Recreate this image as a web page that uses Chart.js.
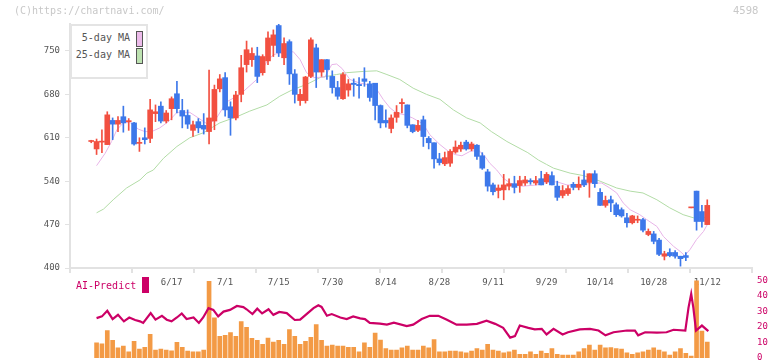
<!DOCTYPE html>
<html>
<head>
<meta charset="utf-8">
<script src="https://cdn.jsdelivr.net/npm/chart.js@4"></script>
<style>
    html, body { margin: 0; padding: 0; background: #fff; overflow: hidden; }
    #wrap { position: relative; width: 772px; height: 361px; overflow: hidden; }
    canvas { position: absolute; left: 0; }
    #main-chart { top: 0; }
    #ai-chart { top: 270px; }
    .txt { position: absolute; white-space: nowrap; font-family: "DejaVu Sans Mono", monospace; }
    #copy { left: 14px; top: 5px; font-size: 10px; color: #c8c8c8; }
    #code { left: 733px; top: 5px; font-size: 10px; color: #c8c8c8; font-family: "DejaVu Sans", sans-serif; }
    #legend { position: absolute; left: 70px; top: 24px; width: 74px; height: 51px; border: 2px solid #e4e4e4; background: #fff; }
    .lg-row { position: absolute; right: 0; height: 16px; }
    .lg-row span { position: absolute; right: 16px; top: 1px; font-size: 10px; color: #555; font-family: "DejaVu Sans Mono", monospace; white-space: nowrap; }
    .lg-row i { position: absolute; right: 3px; top: 0; width: 5px; height: 14px; border: 1px solid #555; }
    #ai-label { left: 76px; top: 280px; font-size: 10px; color: #cc0066; }
    #ai-box { position: absolute; left: 142px; top: 277px; width: 7px; height: 16px; background: #cc0066; }
</style>
</head>
<body>
<div id="wrap">
    <canvas id="main-chart" width="772" height="300"></canvas>
    <canvas id="ai-chart" width="772" height="100"></canvas>
    <div id="copy" class="txt">(C)https://chartnavi.com/</div>
    <div id="code" class="txt">4598</div>
    <div id="legend">
        <div class="lg-row" style="top:5px;width:74px"><span>5-day MA</span><i style="background:#ecbbea"></i></div>
        <div class="lg-row" style="top:22px;width:74px"><span>25-day MA</span><i style="background:#bde2b1"></i></div>
    </div>
    <div id="ai-label" class="txt">AI-Predict</div>
    <div id="ai-box"></div>
</div>
<script>
// --- DATA (one entry per trading day, index 0..115) ---
const opens = [
    604, 592, 603, 599, 638, 632, 644, 636, 634, 601,
    610, 609, 649, 661, 637, 657, 681, 654, 646, 622,
    636, 630, 620, 637, 689, 707, 660, 642, 680, 728,
    736, 742, 715, 734, 759, 791, 739, 765, 713, 670,
    670, 709, 755, 716, 736, 709, 691, 673, 687, 698,
    696, 705, 697, 698, 662, 638, 625, 643, 665, 663,
    631, 622, 639, 609, 602, 576, 568, 569, 587, 592,
    603, 592, 598, 581, 555, 534, 525, 526, 532, 536,
    533, 537, 541, 537, 544, 539, 549, 532, 517, 520,
    535, 530, 542, 538, 552, 522, 501, 510, 502, 494,
    481, 473, 477, 478, 454, 455, 445, 419, 425, 425,
    419, 420, 497, 524, 491, 470
];
const highs = [
    606, 608, 623, 652, 642, 644, 661, 641, 635, 610,
    626, 672, 663, 668, 654, 676, 701, 672, 655, 637,
    641, 649, 719, 695, 712, 715, 668, 685, 743, 766,
    755, 756, 744, 781, 784, 794, 771, 768, 720, 688,
    709, 771, 761, 736, 736, 718, 701, 715, 704, 705,
    707, 723, 701, 698, 663, 655, 647, 662, 673, 663,
    631, 638, 645, 612, 602, 585, 587, 591, 605, 603,
    606, 603, 599, 586, 559, 537, 534, 551, 544, 548,
    548, 548, 544, 548, 556, 554, 555, 540, 533, 533,
    538, 547, 557, 552, 557, 528, 516, 516, 505, 497,
    488, 485, 484, 480, 463, 459, 448, 427, 431, 428,
    419, 425, 497, 524, 501, 510
];
const lows = [
    602, 583, 586, 599, 607, 620, 619, 622, 598, 588,
    600, 602, 636, 634, 634, 639, 650, 626, 625, 612,
    618, 616, 600, 623, 684, 645, 614, 639, 668, 716,
    725, 699, 711, 728, 741, 741, 728, 696, 666, 662,
    666, 707, 691, 709, 704, 682, 672, 672, 677, 677,
    674, 693, 669, 639, 626, 627, 618, 635, 650, 626,
    618, 620, 596, 592, 561, 566, 565, 564, 585, 588,
    590, 589, 575, 559, 524, 518, 513, 510, 526, 521,
    522, 533, 535, 534, 534, 536, 534, 509, 513, 517,
    526, 526, 531, 514, 530, 501, 498, 491, 483, 482,
    466, 471, 473, 458, 452, 439, 420, 413, 418, 416,
    403, 412, 497, 461, 466, 470
];
const closes = [
    604, 604, 604, 647, 632, 638, 634, 637, 600, 602,
    607, 655, 652, 637, 650, 673, 657, 645, 632, 631,
    626, 624, 642, 688, 705, 655, 642, 679, 723, 752,
    746, 709, 741, 771, 776, 747, 762, 713, 680, 680,
    708, 768, 716, 736, 720, 691, 677, 712, 697, 696,
    694, 701, 675, 662, 634, 634, 642, 651, 667, 630,
    620, 630, 612, 602, 576, 570, 578, 588, 595, 598,
    592, 600, 580, 561, 532, 523, 529, 534, 536, 530,
    541, 542, 539, 541, 534, 551, 534, 514, 525, 528,
    530, 535, 534, 552, 536, 501, 509, 505, 486, 484,
    473, 484, 478, 461, 459, 443, 422, 423, 420, 419,
    415, 417, 497, 475, 475, 501
];
const volumes = [
    null, 194, 181, 354, 228, 130, 152, 80, 215, 114,
    139, 304, 101, 114, 101, 93, 203, 139, 89, 80,
    80, 101, 987, 519, 278, 291, 329, 278, 468, 394,
    255, 228, 177, 257, 206, 228, 177, 367, 278, 177,
    215, 266, 430, 228, 152, 165, 152, 152, 139, 139,
    80, 194, 139, 320, 232, 120, 101, 101, 130, 152,
    101, 101, 152, 130, 236, 80, 80, 89, 89, 80,
    67, 89, 122, 101, 177, 101, 89, 67, 80, 101,
    46, 46, 80, 46, 89, 59, 122, 46, 38, 38,
    38, 80, 122, 165, 101, 165, 130, 135, 122, 114,
    67, 46, 67, 80, 101, 130, 101, 80, 38, 80,
    122, 59, 25, 1000, 346, 206
];

// moving averages and AI line as [day, value]
const ma5 = [
    [1, 565], [2.6, 585], [3.8, 604], [4.8, 623], [6, 634], [7.2, 635], [8.8, 624], [10, 620],
    [11.3, 620], [12.8, 626], [14.4, 636], [16, 651], [18.4, 651], [20, 642], [21, 636], [21.9, 631],
    [23.4, 642], [25.3, 668], [27.8, 680], [30.9, 704], [32.8, 733], [34, 744], [35.2, 747], [36.2, 744],
    [37.7, 749], [39, 736], [40.2, 715], [41.5, 707], [43.6, 708], [44.9, 728], [45.8, 729], [46.8, 722],
    [48.3, 704], [50.2, 698], [52, 695], [53.3, 688], [54.5, 672], [55.8, 658], [57, 650], [58.5, 647],
    [60, 642], [62, 632], [63.2, 615], [65.1, 599], [66.7, 588], [67.9, 583], [69.2, 581], [70.7, 588],
    [72.3, 590], [73.5, 580], [74.4, 569], [75.7, 558], [76.9, 545], [78.2, 537], [79.4, 533], [80.6, 532],
    [83.2, 534], [85, 538], [86.9, 539], [88.8, 534], [91.2, 533], [93.4, 537], [95.3, 537], [96.8, 529],
    [98.1, 521], [99.3, 505], [100.6, 494], [102.4, 486], [103.7, 478], [105.6, 467], [106.8, 451], [108.7, 435],
    [109.9, 427], [110.8, 420], [111.8, 430], [113, 446], [114.3, 459], [115, 470]
];
const ma25 = [
    [1, 489], [2.3, 495], [4.1, 510], [6.6, 529], [9.1, 542], [10.4, 553], [11.6, 558], [13.5, 577],
    [16, 596], [18.4, 610], [20.9, 618], [24, 634], [27.2, 644], [29.6, 653], [32.8, 663], [35.2, 677],
    [37.7, 688], [40.2, 696], [42.7, 707], [45.8, 712], [47.7, 715], [50.8, 717], [53.3, 718], [55.2, 712],
    [57.6, 704], [60.1, 690], [62.6, 680], [65.1, 672], [67.6, 655], [70.1, 642], [72.6, 634], [74.7, 620],
    [77.6, 604], [81.5, 586], [83.5, 574], [85, 567], [86.3, 561], [89.4, 553], [91.9, 549], [95, 540],
    [98.1, 529], [100.6, 524], [103, 521], [105.6, 510], [108, 497], [110.5, 486], [112.4, 481], [114.3, 481],
    [115.2, 483]
];
const aiPredict = [
    [1, 25.7], [2, 26.8], [3, 30.4], [4, 25.1], [5, 27.8], [6.1, 23.6], [7.1, 26.1], [8.2, 24.5],
    [9.1, 23.6], [9.7, 22.6], [11.1, 28.9], [12, 24.7], [13.2, 27.2], [14.1, 24.7], [15, 23.6], [16, 26.1],
    [16.9, 28.7], [17.8, 25.1], [19.1, 26.1], [20.1, 22.6], [20.9, 26.1], [21.9, 32.1], [22.8, 31], [23.7, 26.8],
    [24.7, 29.9], [25.9, 31], [27.2, 33.5], [28.4, 32.8], [29, 31.4], [30.1, 28.3], [31, 31.8], [31.9, 28.7],
    [33.1, 31.4], [34, 27.8], [35.1, 29.7], [36.5, 28.9], [38, 24.5], [39, 24.7], [40.2, 28.3], [41.5, 32.1],
    [42.4, 34], [43, 32.9], [44, 27.2], [44.9, 28.3], [46.5, 26.1], [47.7, 25.1], [48.9, 26.8], [50.2, 25.5],
    [51.1, 25.1], [52, 22.6], [53.9, 22.2], [55.2, 21.5], [56.5, 22.8], [58.9, 20.5], [60.1, 21.5], [61.7, 25.1],
    [63.2, 27.2], [64.8, 27.2], [66.4, 24.7], [68.2, 21.5], [70.1, 21.5], [72, 22], [73.8, 24], [75.4, 22],
    [76.9, 19.4], [78.2, 13.1], [79.1, 14.1], [80, 20.9], [81.6, 19.4], [82.8, 18.4], [84.1, 18.8], [85, 15.2],
    [86.3, 18.8], [88, 15.2], [89, 16.6], [91.2, 18.4], [93.1, 18.8], [94.7, 17.7], [96, 14.6], [97.5, 16.6],
    [100, 17.7], [101.5, 17.7], [102.1, 14.6], [103.4, 16.6], [105.6, 16.3], [107.4, 16.6], [108.7, 18.2], [110.9, 17.7],
    [111.5, 32.5], [112, 41.3], [112.4, 32.5], [112.9, 17.7], [114, 20.9], [115.2, 17.3]
];

// date labels under the price panel and price ticks
const tickIdx = [15, 25, 35, 45, 55, 65, 75, 85, 95, 105, 115];
const tickText = ['6/17', '7/1', '7/15', '7/30', '8/14', '8/28', '9/11', '9/29', '10/14', '10/28', '11/12'];
const priceTicks = [400, 470, 540, 610, 680, 750];

// --- LAYOUT / STYLE ---
const X_MIN = -3.96;
const X_MAX = 123.35;
const UP = '#f25041';
const DOWN = '#3d78ea';
const AXIS = '#e2e2e2';
const MONO = 'DejaVu Sans Mono';
// grid marks on the date axis sit every 62px, independent of the labels
const gridVals = Array.from({ length: 12 }, (_, k) => X_MIN + k * (X_MAX - X_MIN) / 11);

Chart.defaults.font.family = MONO;

const days = opens.map((_, i) => i);
const candleColors = days.map(i => closes[i] >= opens[i] ? UP : DOWN);
const toPoints = arr => arr.map(p => ({ x: p[0], y: p[1] }));

// --- PRICE PANEL ---
new Chart(document.getElementById('main-chart').getContext('2d'), {
    type: 'bar',
    data: {
        datasets: [
            {
                type: 'line',
                data: toPoints(ma25),
                borderColor: '#b2dca6',
                borderWidth: 1,
                pointRadius: 0,
                order: 6
            },
            {
                type: 'line',
                data: toPoints(ma5),
                borderColor: '#e8b4e8',
                borderWidth: 1,
                pointRadius: 0,
                order: 5
            },
            {
                data: days.map(i => ({ x: i, y: [lows[i], highs[i]] })),
                backgroundColor: candleColors,
                barThickness: 1,
                grouped: false,
                order: 3
            },
            {
                data: days.map(i => ({ x: i, y: [opens[i], closes[i]] })),
                backgroundColor: candleColors,
                barThickness: 5,
                minBarLength: 1,
                grouped: false,
                order: 2
            }
        ]
    },
    options: {
        responsive: false,
        animation: false,
        devicePixelRatio: 1,
        layout: { padding: { top: 24, right: 20, left: 0, bottom: 0 } },
        plugins: { legend: { display: false }, tooltip: { enabled: false } },
        scales: {
            x: {
                type: 'linear',
                min: X_MIN,
                max: X_MAX,
                offset: false,
                afterBuildTicks: scale => {
                    scale.ticks = gridVals.concat(tickIdx).sort((a, b) => a - b).map(v => ({ value: v }));
                },
                afterFit: scale => { scale.height = 32; },
                ticks: {
                    autoSkip: false,
                    maxRotation: 0,
                    padding: 4,
                    color: '#555',
                    font: { size: 9 },
                    callback: value => {
                        const k = tickIdx.indexOf(value);
                        return k >= 0 ? tickText[k] : '';
                    }
                },
                grid: {
                    offset: false,
                    drawOnChartArea: false,
                    tickLength: 5,
                    lineWidth: 2,
                    color: ctx => (ctx.tick && tickIdx.includes(ctx.tick.value)) ? 'rgba(0,0,0,0)' : AXIS
                },
                border: { color: AXIS, width: 2 }
            },
            y: {
                min: 400,
                max: 793.5,
                afterBuildTicks: scale => { scale.ticks = priceTicks.map(v => ({ value: v })); },
                afterFit: scale => { scale.width = 70; },
                ticks: { color: '#555', padding: 5, font: { size: 9 } },
                grid: { drawOnChartArea: false, tickLength: 5, lineWidth: 1, color: AXIS },
                border: { color: AXIS, width: 2 }
            }
        }
    }
});

// --- VOLUME + AI-PREDICT PANEL ---
new Chart(document.getElementById('ai-chart').getContext('2d'), {
    type: 'bar',
    data: {
        datasets: [
            {
                type: 'line',
                data: toPoints(aiPredict),
                yAxisID: 'y',
                borderColor: '#cc0066',
                borderWidth: 2.2,
                pointRadius: 0,
                order: 1
            },
            {
                data: days.map(i => ({ x: i, y: volumes[i] })),
                yAxisID: 'yv',
                backgroundColor: '#f39a45',
                barThickness: 4,
                grouped: false,
                order: 2
            }
        ]
    },
    options: {
        responsive: false,
        animation: false,
        devicePixelRatio: 1,
        layout: { padding: { top: 9, bottom: 12, left: 70, right: 0 } },
        plugins: { legend: { display: false }, tooltip: { enabled: false } },
        scales: {
            x: { type: 'linear', min: X_MIN, max: X_MAX, offset: false, display: false },
            y: {
                position: 'right',
                min: 0,
                max: 50,
                afterFit: scale => { scale.width = 20; },
                ticks: { stepSize: 10, color: '#cc0066', padding: 5, font: { size: 9 } },
                grid: { display: false, drawTicks: false },
                border: { display: false }
            },
            yv: { display: false, min: 0, max: 1000 }
        }
    }
});
</script>
</body>
</html>
